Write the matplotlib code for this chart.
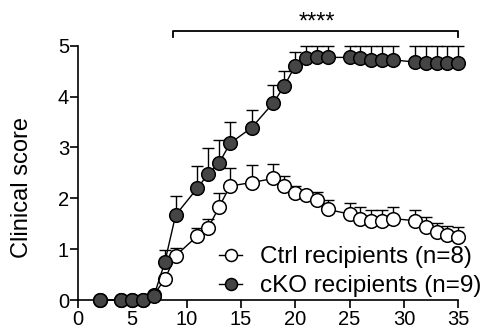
import matplotlib
matplotlib.use("Agg")
import matplotlib.pyplot as plt
import numpy as np

days = [2, 4, 5, 6, 7, 8, 9, 11, 12, 13, 14, 16, 18, 19, 20, 21, 22, 23, 25, 26, 27, 28, 29, 31, 32, 33, 34, 35]
ctrl_mean = [0, 0, 0, 0, 0.1, 0.41, 0.87, 1.26, 1.42, 1.83, 2.24, 2.31, 2.39, 2.24, 2.10, 2.06, 1.97, 1.78,
             1.69, 1.59, 1.56, 1.56, 1.60, 1.56, 1.43, 1.33, 1.28, 1.24]
ctrl_err = [0, 0, 0, 0, 0, 0, 0.15, 0.15, 0.17, 0.27, 0.36, 0.34, 0.28, 0.20, 0.15, 0.0, 0.16, 0.19,
            0.22, 0.23, 0.21, 0.21, 0.22, 0.20, 0.20, 0.18, 0.18, 0.19]
cko_mean = [0, 0, 0, 0, 0.08, 0.74, 1.67, 2.20, 2.48, 2.69, 3.08, 3.39, 3.88, 4.21, 4.61, 4.75, 4.77, 4.77,
            4.77, 4.75, 4.72, 4.72, 4.72, 4.68, 4.66, 4.66, 4.66, 4.66]
cko_err = [0, 0, 0, 0, 0, 0.25, 0.38, 0.44, 0.50, 0.46, 0.41, 0.34, 0.35, 0.30, 0.26, 0.25, 0.23, 0.23,
           0.23, 0.25, 0.28, 0.28, 0.28, 0.32, 0.34, 0.34, 0.34, 0.34]
labels = ["Ctrl recipients (n=8)", "cKO recipients (n=9)"]
xticks = [0, 5, 10, 15, 20, 25, 30, 35]
yticks = [0, 1, 2, 3, 4, 5]
sig_text = "****"
sig_start, sig_end = 8.77, 35

plt.rcParams['font.family'] = ['Liberation Sans', 'DejaVu Sans']

W, H = 484, 334
fig = plt.figure(figsize=(W / 100, H / 100), dpi=100)
ax = fig.add_axes([77.8 / W, 1 - 300 / H, (458.3 - 77.8) / W, (300 - 45.7) / H])

ms = 9.8
mew = 1.1
# Ctrl
ax.errorbar(days, ctrl_mean, yerr=[np.zeros(len(days)), ctrl_err], fmt='none', ecolor='black',
            elinewidth=1.0, capsize=4.3, capthick=1.0, clip_on=False, zorder=2)
ax.plot(days, ctrl_mean, '-o', color='black', lw=1.0, mfc='white', mec='black', mew=mew,
        ms=ms, clip_on=False, zorder=3, label=labels[0])
# cKO
ax.errorbar(days, cko_mean, yerr=[np.zeros(len(days)), cko_err], fmt='none', ecolor='black',
            elinewidth=1.0, capsize=4.3, capthick=1.0, clip_on=False, zorder=4)
ax.plot(days, cko_mean, '-o', color='black', lw=1.0, mfc='#454545', mec='black', mew=mew,
        ms=ms, clip_on=False, zorder=5, label=labels[1])

ax.set_xlim(0, 35)
ax.set_ylim(0, 5)
ax.set_xticks(xticks)
ax.set_yticks(yticks)
for s in ['top', 'right']:
    ax.spines[s].set_visible(False)
for s in ['left', 'bottom']:
    ax.spines[s].set_linewidth(1.2)
ax.tick_params(axis='both', direction='out', length=5.5, width=1.2, labelsize=14.5)
ax.tick_params(axis='y', pad=0.8)
ax.tick_params(axis='x', pad=2)
fig.text(21.7 / W, 1 - 188 / H, "Clinical score", rotation=90, ha='center', va='center', fontsize=17)

# significance bracket
yb = 5.29
ax.plot([sig_start, sig_start, sig_end, sig_end], [yb - 0.11, yb, yb, yb - 0.11], color='black',
        lw=1.3, clip_on=False)
ax.text((sig_start + sig_end) / 2 + 0.1, 5.33, sig_text, ha='center', va='baseline', fontsize=17)

leg = ax.legend(loc='upper left', bbox_to_anchor=(219 / W, 1 - 246 / H), bbox_transform=fig.transFigure,
                frameon=False, fontsize=17.5, handlelength=0.95, handletextpad=0.75, labelspacing=0.3,
                borderpad=0, borderaxespad=0, markerscale=0.88)

fig.savefig("out.png", dpi=100)
